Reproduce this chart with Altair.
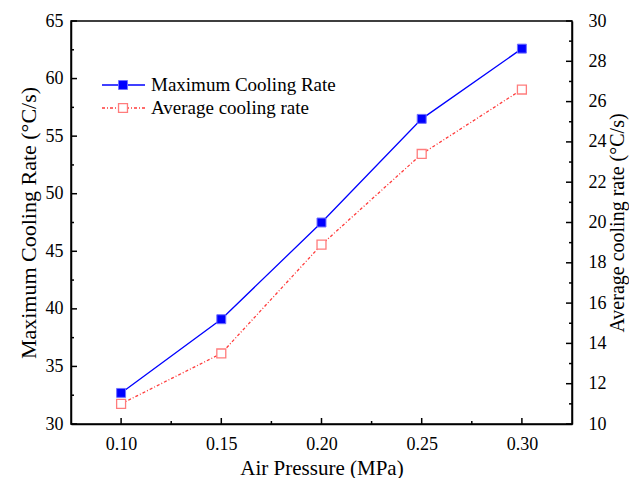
import altair as alt
import pandas as pd

# ---- data ----
pressure = [0.10, 0.15, 0.20, 0.25, 0.30]
max_rate = [32.7, 39.1, 47.5, 56.5, 62.6]
avg_rate = [11.0, 13.5, 18.9, 23.4, 26.6]
series = ["Maximum Cooling Rate", "Average cooling rate"]

x_major = [0.10, 0.15, 0.20, 0.25, 0.30]
x_minor = [0.125, 0.175, 0.225, 0.275]
yl_major = [30, 35, 40, 45, 50, 55, 60, 65]
yl_minor = [32.5, 37.5, 42.5, 47.5, 52.5, 57.5, 62.5]
yr_major = [10, 12, 14, 16, 18, 20, 22, 24, 26, 28, 30]
yr_minor = [11, 13, 15, 17, 19, 21, 23, 25, 27, 29]

W, H = 501, 403
FONT = "Liberation Serif"
BLUE = "#0000FF"
RED = "#FF3B3B"
PINK = "#FF7C7C"

df = pd.DataFrame({"p": pressure, "max": max_rate, "avg": avg_rate})

xs = alt.Scale(domain=[0.075, 0.325], nice=False, zero=False)
ysl = alt.Scale(domain=[30, 65], nice=False, zero=False)
ysr = alt.Scale(domain=[10, 30], nice=False, zero=False)

common = dict(tickSize=0, grid=False, labelFont=FONT, titleFont=FONT,
              labelColor="black", titleColor="black", titleFontWeight="normal",
              domainColor="black", domainWidth=1.5, labelFontSize=18)

x_axis = alt.Axis(values=x_major, format=".2f", title="Air Pressure (MPa)",
                  labelPadding=11, titlePadding=4, titleFontSize=21,
                  orient="bottom", **common)
yl_axis = alt.Axis(values=yl_major, format="d", title="Maximum Cooling Rate (°C/s)",
                   labelPadding=8, titlePadding=5, titleFontSize=22,
                   orient="left", **common)
yr_axis = alt.Axis(values=yr_major, format="d", title="Average cooling rate (°C/s)",
                   labelPadding=16, titlePadding=1, titleFontSize=20,
                   orient="right", titleAngle=270, titleBaseline="top", **common)

X = alt.X("p:Q", scale=xs, axis=x_axis)

def tick_df(vals):
    return pd.DataFrame({"v": vals})

# ---- left (maximum) group ----
max_line = alt.Chart(df).mark_line(color=BLUE, strokeWidth=1.3).encode(
    x=X, y=alt.Y("max:Q", scale=ysl, axis=yl_axis))
max_pts = alt.Chart(df).mark_point(shape="square", filled=True, size=80,
                                   fill=BLUE, stroke="#7070FF", strokeWidth=1,
                                   opacity=1).encode(
    x=X, y=alt.Y("max:Q", scale=ysl, axis=yl_axis))

xt_major = alt.Chart(tick_df(x_major)).mark_rule(color="black", strokeWidth=1.5).encode(
    x=alt.X("v:Q", scale=xs, axis=x_axis), y=alt.value(H), y2=alt.value(H - 6))
xt_minor = alt.Chart(tick_df(x_minor)).mark_rule(color="black", strokeWidth=1.5).encode(
    x=alt.X("v:Q", scale=xs, axis=x_axis), y=alt.value(H), y2=alt.value(H - 3))
ylt_major = alt.Chart(tick_df(yl_major)).mark_rule(color="black", strokeWidth=1.5).encode(
    y=alt.Y("v:Q", scale=ysl, axis=yl_axis), x=alt.value(0), x2=alt.value(6))
ylt_minor = alt.Chart(tick_df(yl_minor)).mark_rule(color="black", strokeWidth=1.5).encode(
    y=alt.Y("v:Q", scale=ysl, axis=yl_axis), x=alt.value(0), x2=alt.value(3))

# legend (drawn inside the plot)
leg1 = pd.DataFrame({"label": [series[0]]})
leg2 = pd.DataFrame({"label": [series[1]]})
l1_rule = alt.Chart(leg1).mark_rule(color=BLUE, strokeWidth=1.3).encode(
    x=alt.value(31), x2=alt.value(74), y=alt.value(64))
l1_pt = alt.Chart(leg1).mark_point(shape="square", filled=True, size=80, fill=BLUE,
                                   stroke="#7070FF", strokeWidth=1, opacity=1).encode(
    x=alt.value(52), y=alt.value(64))
l1_txt = alt.Chart(leg1).mark_text(align="left", baseline="middle", font=FONT,
                                   fontSize=19, color="black").encode(
    x=alt.value(80), y=alt.value(64), text="label:N")
l2_rule = alt.Chart(leg2).mark_rule(color=RED, strokeWidth=1.3, strokeDash=[3, 2, 1, 2]).encode(
    x=alt.value(31), x2=alt.value(74), y=alt.value(87))
l2_pt = alt.Chart(leg2).mark_point(shape="square", filled=True, size=80, fill="white",
                                   stroke=PINK, strokeWidth=1.3, opacity=1).encode(
    x=alt.value(52), y=alt.value(87))
l2_txt = alt.Chart(leg2).mark_text(align="left", baseline="middle", font=FONT,
                                   fontSize=19, color="black").encode(
    x=alt.value(80), y=alt.value(87), text="label:N")

left = alt.layer(max_line, xt_major, xt_minor, ylt_major, ylt_minor,
                 l1_rule, l2_rule, l1_pt, l2_pt, l1_txt, l2_txt, max_pts)

# ---- right (average) group ----
avg_line = alt.Chart(df).mark_line(color=RED, strokeWidth=1.3, strokeDash=[3, 2, 1, 2]).encode(
    x=X, y=alt.Y("avg:Q", scale=ysr, axis=yr_axis))
avg_pts = alt.Chart(df).mark_point(shape="square", filled=True, size=80, fill="white",
                                   stroke=PINK, strokeWidth=1.3, opacity=1).encode(
    x=X, y=alt.Y("avg:Q", scale=ysr, axis=yr_axis))
yrt_major = alt.Chart(tick_df(yr_major)).mark_rule(color="black", strokeWidth=1.5).encode(
    y=alt.Y("v:Q", scale=ysr, axis=yr_axis), x=alt.value(W), x2=alt.value(W - 6))
yrt_minor = alt.Chart(tick_df(yr_minor)).mark_rule(color="black", strokeWidth=1.5).encode(
    y=alt.Y("v:Q", scale=ysr, axis=yr_axis), x=alt.value(W), x2=alt.value(W - 3))

right = alt.layer(avg_line, yrt_major, yrt_minor, avg_pts)

chart = alt.layer(left, right).resolve_scale(y="independent").properties(
    width=W, height=H,
    autosize=alt.AutoSizeParams(type="none"),
    padding={"left": 63, "top": 13, "right": 57, "bottom": 54},
    background="white",
).configure(font=FONT).configure_view(stroke="black", strokeWidth=1.5).configure_axis(
    labelFont=FONT, titleFont=FONT)

chart.save("out.html", embed_options={"renderer": "svg", "actions": False})
